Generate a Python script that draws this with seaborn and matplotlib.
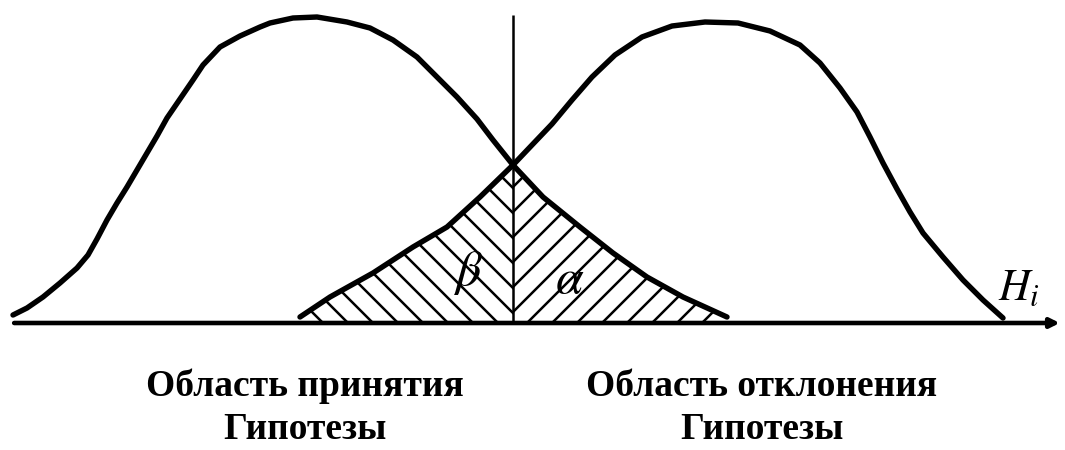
import numpy as np
import pandas as pd
import matplotlib
matplotlib.use('Agg')
import matplotlib.pyplot as plt
import seaborn as sns

sns.set_style("white")
plt.rcParams['font.family'] = ['Liberation Serif', 'DejaVu Serif']
plt.rcParams['mathtext.fontset'] = 'stix'
plt.rcParams['text.color'] = 'black'
plt.rcParams['hatch.linewidth'] = 1.2

# == curves (x position, height above the axis)
left_x = [13, 27, 43, 60, 77, 88, 97, 107, 117, 127, 137, 147, 157, 167, 180, 193, 203,
          220, 240, 260, 270, 293, 317, 347, 370, 393, 417, 437, 457, 477, 493, 513,
          543, 580, 613, 647, 683, 727]
left_h = [8, 15, 26, 40, 55, 68, 84, 103, 120, 136, 153, 170, 187, 205, 224, 243, 258,
          276, 287, 296, 300, 305, 306, 301, 295, 283, 266, 246, 226, 204, 183, 158,
          126, 96, 70, 46, 26, 6]
right_x = [300, 330, 373, 413, 447, 480, 513, 532, 552, 572, 592, 615, 642, 672, 705,
           738, 770, 800, 820, 840, 857, 870, 883, 897, 910, 923, 943, 963, 983, 1003]
right_h = [6, 26, 50, 76, 96, 126, 158, 178, 199, 223, 246, 268, 286, 297, 301,
           300, 292, 278, 260, 235, 211, 186, 160, 134, 111, 90, 66, 43, 23, 5]
crit_x = 513

region_labels = ['Область принятия\nГипотезы', 'Область отклонения\nГипотезы']
region_x = [305, 762]
err_labels = [r'$\beta$', r'$\alpha$']

df_l = pd.DataFrame({'x': left_x, 'h': left_h})
df_r = pd.DataFrame({'x': right_x, 'h': right_h})

fig = plt.figure(figsize=(7.1, 3.0), dpi=150)
ax = fig.add_axes([0, 0, 1, 1])

for d in (df_l, df_r):
    sns.lineplot(data=d, x='x', y='h', color='black', lw=2.6, estimator=None,
                 solid_joinstyle='round', solid_capstyle='round', ax=ax)

# == hatched error areas
beta = df_r[df_r.x <= crit_x]
alpha = df_l[df_l.x >= crit_x]
ax.fill_between(beta.x, 0, beta.h, facecolor='none', edgecolor='black', hatch='\\\\', lw=0)
ax.fill_between(alpha.x, 0, alpha.h, facecolor='none', edgecolor='black', hatch='//', lw=0)

ax.vlines(crit_x, 0, 308, color='black', lw=1.2)
ax.annotate('', xy=(1064, 0), xytext=(10, 0),
            arrowprops=dict(arrowstyle='-|>', lw=2.2, color='black', mutation_scale=9))

ax.text(468, 50, err_labels[0], fontsize=24, ha='center', va='center')
ax.text(570, 42, err_labels[1], fontsize=24, ha='center', va='center')
ax.text(998, 34, r'$H_i$', fontsize=21, ha='left', va='center')

for lab, x in zip(region_labels, region_x):
    ax.text(x, -85, lab, fontsize=18, fontweight='bold', ha='center', va='center',
            multialignment='center', linespacing=1.28)

ax.set_xlim(0, 1065)
ax.set_ylim(-127, 323)
ax.axis('off')
plt.savefig('out.png', dpi=150)
plt.close()
